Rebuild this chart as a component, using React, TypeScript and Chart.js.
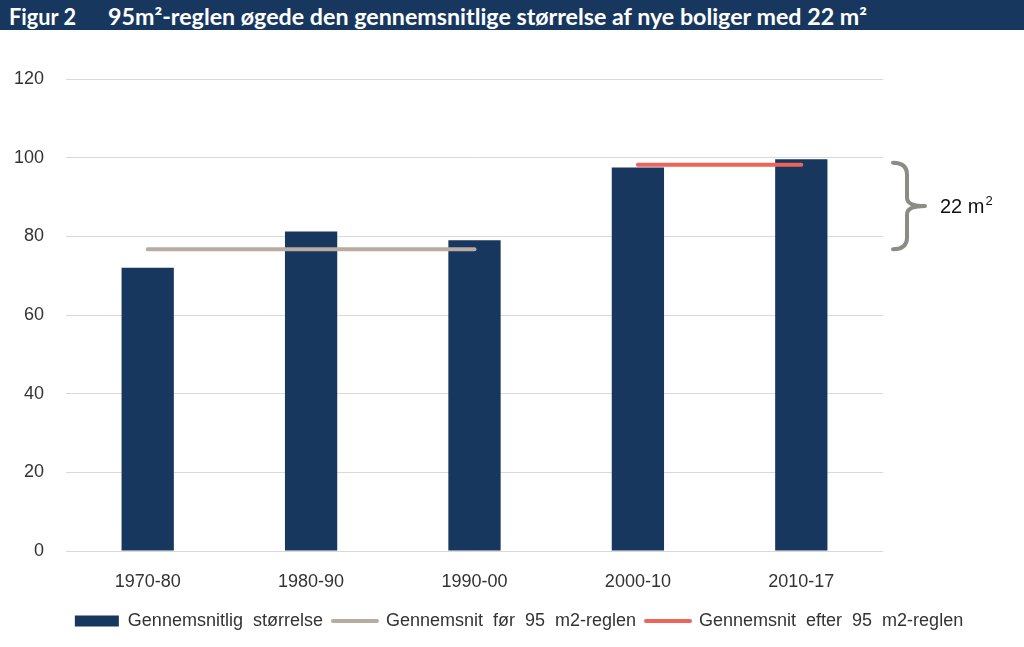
import React, { useEffect, useRef } from 'react';
import { Chart, registerables } from 'chart.js';

Chart.register(...registerables);

const categories = ['1970-80', '1980-90', '1990-00', '2000-10', '2010-17'];
const avgSize = [72, 81.2, 79.0, 97.5, 99.6];
const avgBefore = [76.7, 76.7, 76.7, null, null];
const avgAfter = [null, null, null, 98.2, 98.2];
const yTicks = [0, 20, 40, 60, 80, 100, 120];
const seriesNames = [
  'Gennemsnitlig  størrelse',
  'Gennemsnit  før  95  m2-reglen',
  'Gennemsnit  efter  95  m2-reglen',
];
const titleNumber = 'Figur 2';
const titleText = '95m²-reglen øgede den gennemsnitlige størrelse af nye boliger med 22 m²';
const braceLabel = '22 m';
const braceSup = '2';

const NAVY = '#17375e';
const GREY = '#b8aba2';
const RED = '#ef6459';
const BRACE = '#8b8c84';
const TEXT = '#333333';
const FONT = "'Liberation Sans', Arial, Helvetica, sans-serif";

const bracePlugin = {
  id: 'brace',
  afterDatasetsDraw(chart: any) {
    const { ctx, chartArea, scales } = chart;
    const y = scales.y;
    const afterVal = avgAfter.find((v) => v !== null) as number;
    const beforeVal = avgBefore.find((v) => v !== null) as number;
    const top = y.getPixelForValue(afterVal) - 2;
    const bot = y.getPixelForValue(beforeVal);
    const mid = (top + bot) / 2;
    const x0 = chartArea.right + 10;
    const xm = x0 + 14;
    const xt = x0 + 32;
    const r = 12;
    ctx.save();
    ctx.beginPath();
    ctx.moveTo(x0, top);
    ctx.quadraticCurveTo(xm, top, xm, top + r);
    ctx.lineTo(xm, mid - r * 0.7);
    ctx.quadraticCurveTo(xm, mid, xt, mid);
    ctx.quadraticCurveTo(xm, mid, xm, mid + r * 0.7);
    ctx.lineTo(xm, bot - r);
    ctx.quadraticCurveTo(xm, bot, x0, bot);
    ctx.lineWidth = 4;
    ctx.lineCap = 'round';
    ctx.lineJoin = 'round';
    ctx.strokeStyle = BRACE;
    ctx.stroke();

    ctx.fillStyle = '#111111';
    ctx.textBaseline = 'alphabetic';
    ctx.font = `20px ${FONT}`;
    const tx = chartArea.right + 57;
    const ty = mid + 7;
    ctx.fillText(braceLabel, tx, ty);
    const w = ctx.measureText(braceLabel).width;
    ctx.font = `13px ${FONT}`;
    ctx.fillText(braceSup, tx + w + 1, ty - 8);
    ctx.restore();
  },
};

export default function App() {
  const ref = useRef<HTMLCanvasElement | null>(null);
  const numRef = useRef<HTMLSpanElement | null>(null);
  const txtRef = useRef<HTMLSpanElement | null>(null);

  useEffect(() => {
    const fit = () => {
      const pairs: [HTMLSpanElement | null, number][] = [
        [numRef.current, 67],
        [txtRef.current, 759],
      ];
      pairs.forEach(([el, target]) => {
        if (!el) return;
        el.style.transform = 'none';
        const w = el.getBoundingClientRect().width;
        if (w > 0) el.style.transform = `scaleX(${target / w})`;
      });
    };
    fit();
    if ((document as any).fonts && (document as any).fonts.ready) {
      (document as any).fonts.ready.then(fit);
    }
  }, []);

  useEffect(() => {
    if (!ref.current) return;
    Chart.defaults.font.family = FONT;
    const chart = new Chart(ref.current, {
      type: 'bar',
      data: {
        labels: categories,
        datasets: [
          {
            type: 'bar',
            label: seriesNames[0],
            data: avgSize,
            backgroundColor: NAVY,
            barPercentage: 0.32,
            categoryPercentage: 1,
            order: 2,
          },
          {
            type: 'line',
            label: seriesNames[1],
            data: avgBefore,
            borderColor: GREY,
            backgroundColor: GREY,
            borderWidth: 4,
            borderCapStyle: 'round',
            pointRadius: 0,
            spanGaps: false,
            order: 1,
          },
          {
            type: 'line',
            label: seriesNames[2],
            data: avgAfter,
            borderColor: RED,
            backgroundColor: RED,
            borderWidth: 4,
            borderCapStyle: 'round',
            pointRadius: 0,
            spanGaps: false,
            order: 0,
          },
        ] as any,
      },
      options: {
        animation: false,
        responsive: true,
        maintainAspectRatio: false,
        layout: { padding: { top: 79, left: 14, right: 0, bottom: 7 } },
        plugins: {
          title: { display: false },
          tooltip: { enabled: false },
          legend: {
            position: 'bottom',
            labels: {
              usePointStyle: true,
              pointStyleWidth: 44,
              boxHeight: 11,
              padding: 10,
              color: TEXT,
              font: { size: 18, family: FONT },
              generateLabels: (c: any) =>
                c.data.datasets.map((ds: any, i: number) => ({
                  text: ds.label,
                  datasetIndex: i,
                  fillStyle: i === 0 ? NAVY : 'rgba(0,0,0,0)',
                  strokeStyle: i === 0 ? NAVY : ds.borderColor,
                  lineWidth: i === 0 ? 0 : 4,
                  lineCap: 'round',
                  pointStyle: i === 0 ? 'rect' : 'line',
                  fontColor: TEXT,
                  hidden: !c.isDatasetVisible(i),
                })),
            },
          },
        },
        scales: {
          x: {
            grid: { display: false, drawTicks: false },
            border: { display: false },
            ticks: { color: TEXT, font: { size: 18 }, padding: 20 },
            afterFit: (s: any) => {
              s.height = 51;
            },
          },
          y: {
            min: 0,
            max: 120,
            afterBuildTicks: (s: any) => {
              s.ticks = yTicks.map((v) => ({ value: v }));
            },
            afterFit: (s: any) => {
              s.width = 52;
            },
            grid: { color: '#d9d9d9', lineWidth: 1, drawTicks: false },
            border: { display: false },
            ticks: { color: TEXT, font: { size: 18 }, padding: 22 },
          },
          yRight: {
            position: 'right',
            display: true,
            grid: { display: false, drawTicks: false },
            border: { display: false },
            ticks: { display: false },
            afterFit: (s: any) => {
              s.width = 141;
            },
          },
        },
      },
      plugins: [bracePlugin],
    } as any);
    return () => chart.destroy();
  }, []);

  return (
    <div style={{ position: 'absolute', left: 0, top: 0, width: 1024, height: 647, background: '#fff' }}>
      <canvas ref={ref} />
      <div
        style={{
          position: 'absolute',
          left: 0,
          top: 0,
          width: 1024,
          height: 30,
          lineHeight: '34px',
          overflow: 'hidden',
          background: NAVY,
          color: '#ffffff',
          fontFamily: "Lato, 'Open Sans', sans-serif",
          fontWeight: 'bold',
          fontSize: 22,
          whiteSpace: 'nowrap',
        }}
      >
        <span
          ref={numRef}
          style={{ position: 'absolute', left: 9, display: 'inline-block', transformOrigin: 'left center' }}
        >
          {titleNumber}
        </span>
        <span
          ref={txtRef}
          style={{ position: 'absolute', left: 108, display: 'inline-block', transformOrigin: 'left center' }}
        >
          {titleText}
        </span>
      </div>
    </div>
  );
}
